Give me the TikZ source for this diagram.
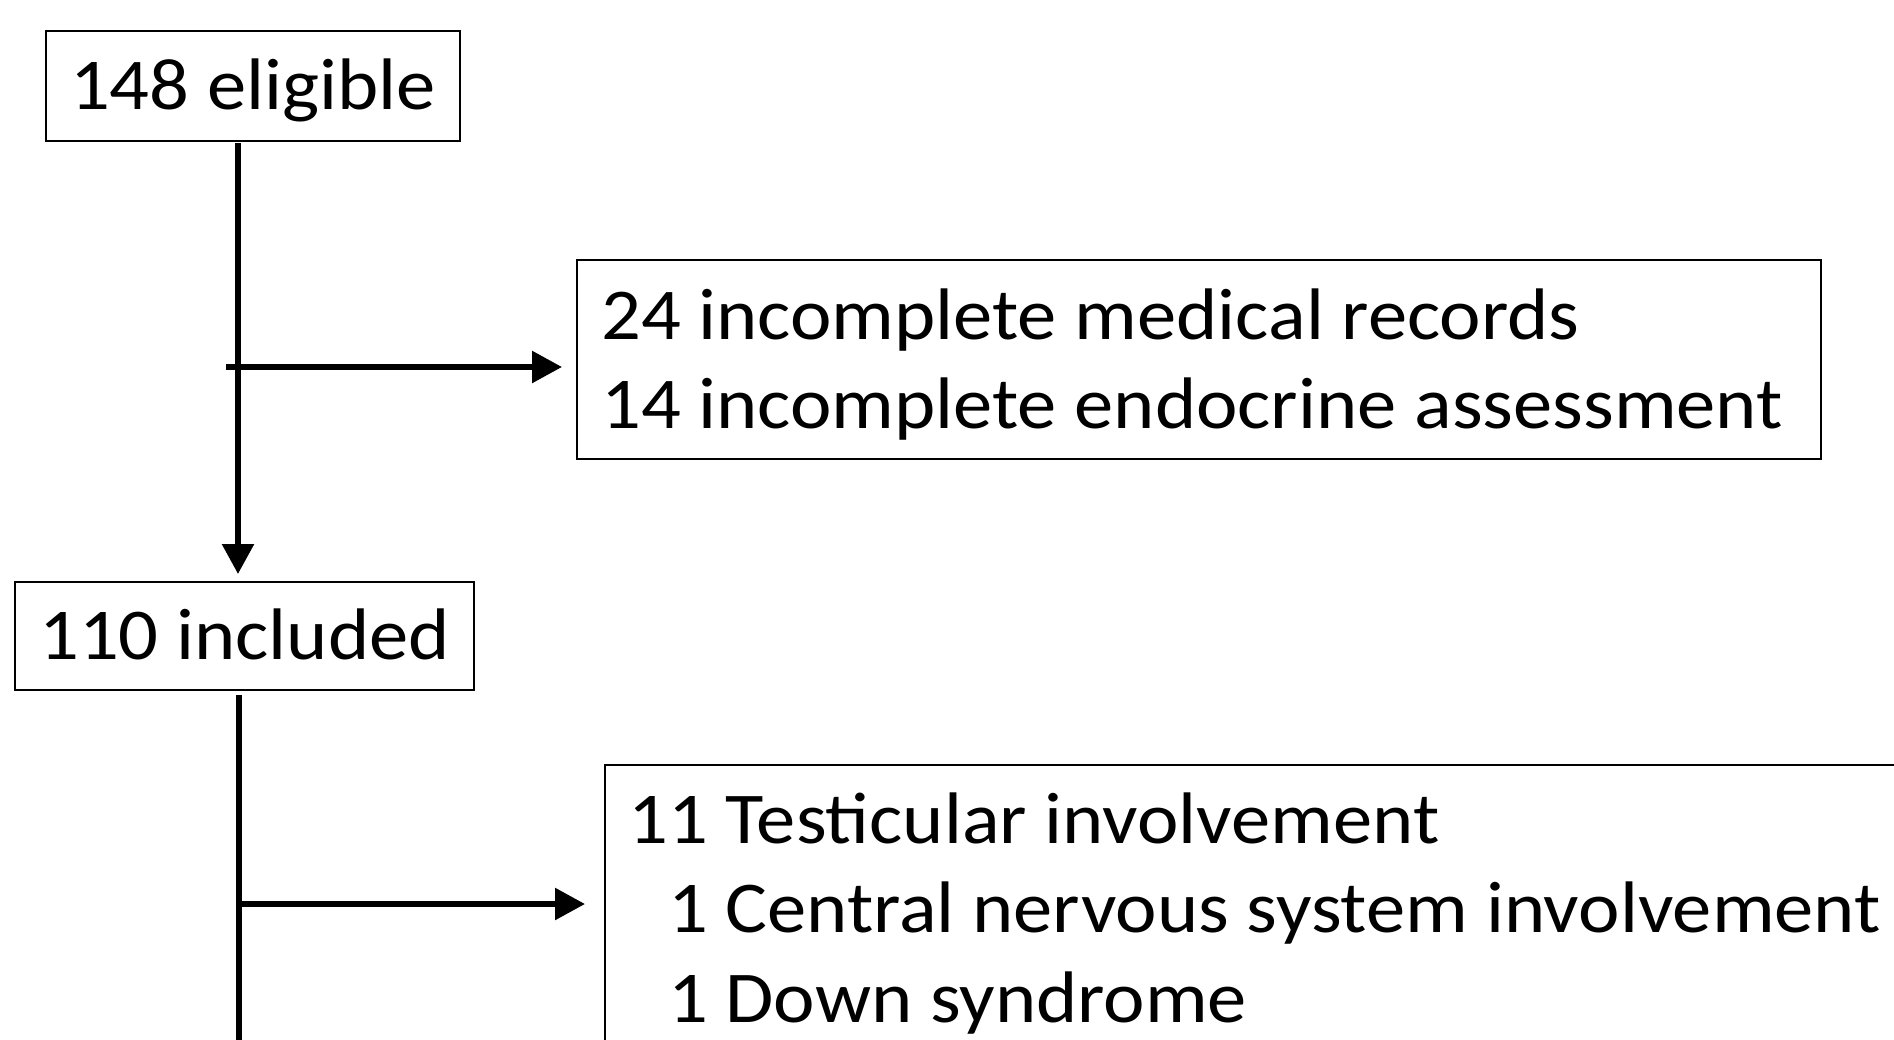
\documentclass[tikz,border=0pt]{standalone}
\usepackage{fontspec}
\setmainfont{Carlito}[FakeStretch=1.076]
\usetikzlibrary{arrows.meta}
\begin{document}
\begin{tikzpicture}[x={(1pt,0)}, y={(0,-1pt)},
  box/.style={draw, line width=2pt, inner sep=0pt},
  lbl/.style={font=\fontsize{73}{88}\selectfont, inner sep=0pt},
  boxtxt/.style={font=\fontsize{73}{88}\selectfont, text height=47pt, text depth=0pt},
  conn/.style={line width=5.7pt},
  arr/.style={conn, -{Triangle[length=30pt,width=31pt]}}]
\useasboundingbox (0,0) rectangle (1894,1040);
\clip (0,0) rectangle (1894,1040);
\fill[white] (0,0) rectangle (1894,1040);
% boxes
\node[box, boxtxt, minimum width=414pt, minimum height=110pt] (b1) at (253,86) {148 eligible};
\node[box, boxtxt, minimum width=459pt, minimum height=108pt] (b2) at (244.5,636) {110 included};
\node[box, minimum width=1244pt, minimum height=199pt] (b3) at (1199,359.5) {};
\node[lbl, anchor=base west] (t3a) at (601,340) {24 incomplete medical records};
\node[lbl, anchor=base west] (t3b) at (601,428) {14 incomplete endocrine assessment};
\node[box, anchor=north west, minimum width=1400pt, minimum height=400pt] (b4) at (604,764) {};
\node[lbl, anchor=base west] (t4a) at (628,843) {11 Testicular involvement};
\node[lbl, anchor=base west] (t4b) at (628,932) {\hphantom{1}1 Central nervous system involvement};
\node[lbl, anchor=base west] (t4c) at (628,1022) {\hphantom{1}1 Down syndrome};
% connectors
\coordinate (v1top) at (238,143);
\coordinate (j1) at (226,367);
\coordinate (v2top) at (239,695);
\coordinate (v2end) at (239,1060);
\coordinate (j2) at (239,904);
\draw[arr, shorten >=7pt] (v1top) -- (v1top |- b2.north);
\draw[arr, shorten >=14pt] (j1) -- (b3.west |- j1);
\draw[conn] (v2top) -- (v2end);
\draw[arr, shorten >=19pt] (j2) -- (b4.west |- j2);
\end{tikzpicture}
\end{document}
